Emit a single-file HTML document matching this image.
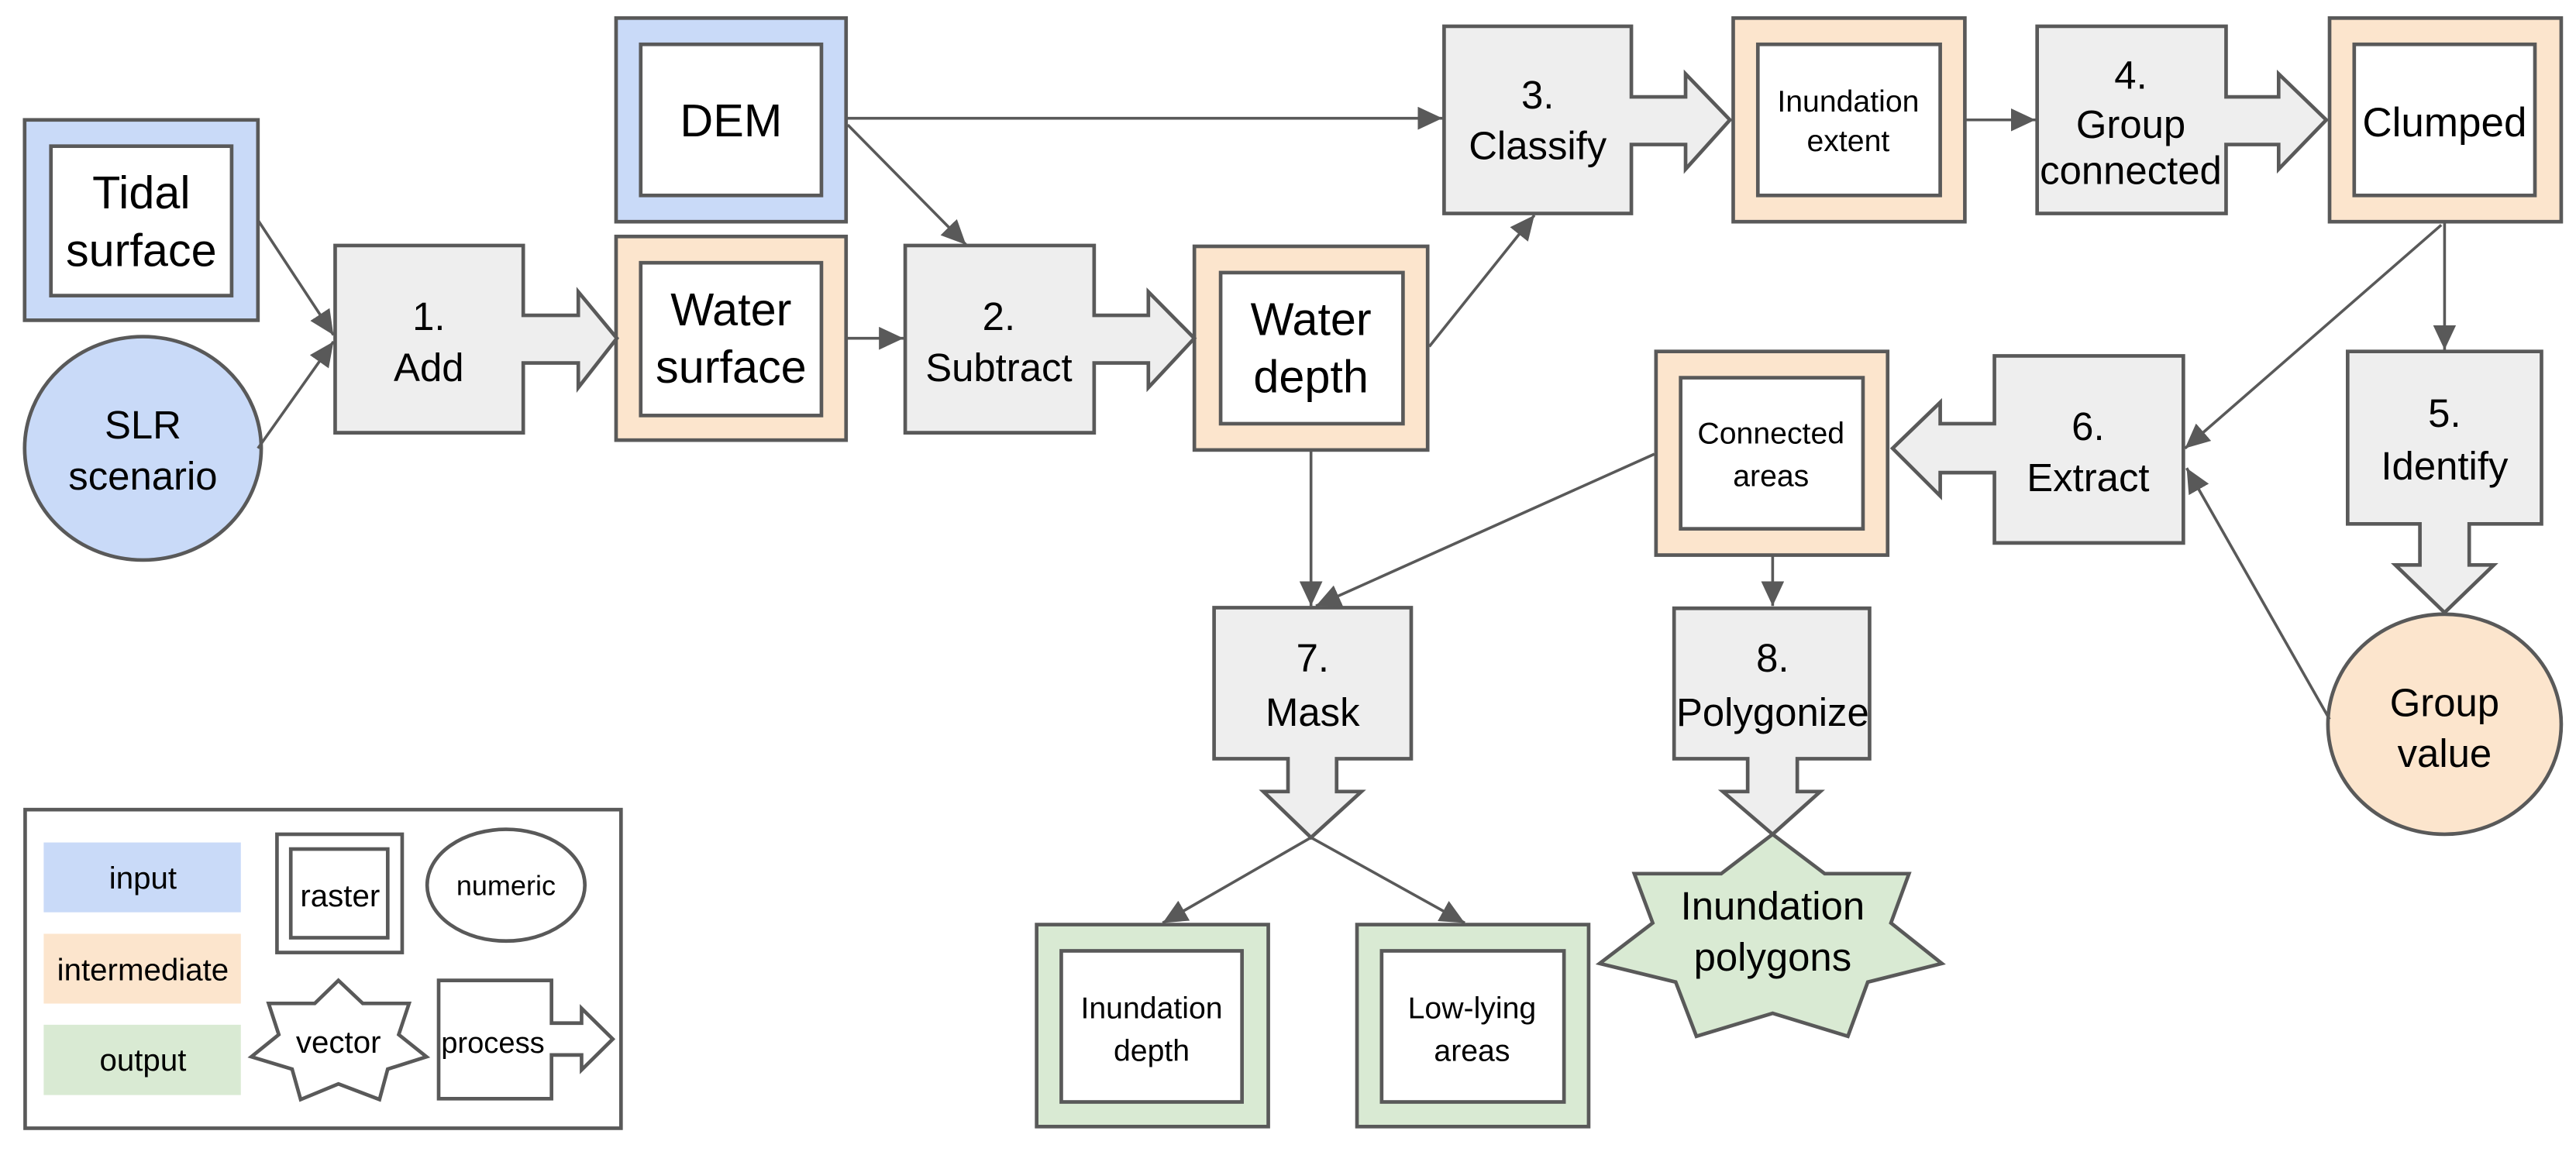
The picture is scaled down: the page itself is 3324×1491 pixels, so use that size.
<!DOCTYPE html>
<html><head><meta charset="utf-8"><style>
html,body{margin:0;padding:0;background:#fff;}
svg{display:block;}
text{font-family:"Liberation Sans",Arial,sans-serif;fill:#000;text-anchor:middle;}
</style></head><body>
<svg width="3324" height="1491" viewBox="0 0 1568 703.3" preserveAspectRatio="none" xmlns="http://www.w3.org/2000/svg">
<defs>
<marker id="ah" markerUnits="userSpaceOnUse" markerWidth="16" markerHeight="14" refX="15" refY="7" orient="auto">
<path d="M0,0 L15,7 L0,14 Z" fill="#595959"/>
</marker>
</defs>
<g stroke="#595959" stroke-width="2.2" stroke-linejoin="miter">
<rect x="15" y="73" width="142" height="122" fill="#c9daf8"/><rect x="31" y="89" width="110" height="91" fill="#fff"/>
<rect x="375" y="11" width="140" height="124" fill="#c9daf8"/><rect x="390" y="27" width="110" height="92" fill="#fff"/>
<rect x="375" y="144" width="140" height="124" fill="#fce5cd"/><rect x="390" y="160" width="110" height="93" fill="#fff"/>
<rect x="727" y="150" width="142" height="124" fill="#fce5cd"/><rect x="743" y="166" width="111" height="92" fill="#fff"/>
<rect x="1055" y="11" width="141" height="124" fill="#fce5cd"/><rect x="1070" y="27" width="111" height="92" fill="#fff"/>
<rect x="1418" y="11" width="141" height="124" fill="#fce5cd"/><rect x="1433" y="27" width="110" height="92" fill="#fff"/>
<rect x="1008" y="214" width="141" height="124" fill="#fce5cd"/><rect x="1023" y="230" width="111" height="92" fill="#fff"/>
<rect x="631" y="563" width="141" height="123" fill="#d9ead3"/><rect x="646" y="579" width="110" height="92" fill="#fff"/>
<rect x="826" y="563" width="141" height="123" fill="#d9ead3"/><rect x="841" y="579" width="111" height="92" fill="#fff"/>
<ellipse cx="87" cy="273" rx="72" ry="68" fill="#c9daf8"/>
<ellipse cx="1488" cy="441" rx="71" ry="67" fill="#fce5cd"/>
<path d="M204,149.5 H318.5 V192 H352 V177.7 L375.5,206 L352,236 V221 H318.5 V263.5 H204 Z" fill="#eeeeee"/>
<path d="M551,149.5 H666 V192 H699 V177.7 L727,206 L699,236 V221 H666 V263.5 H551 Z" fill="#eeeeee"/>
<path d="M879,16 H993 V59 H1026 V45 L1053,73 L1026,103 V88 H993 V130 H879 Z" fill="#eeeeee"/>
<path d="M1240,16 H1355 V59 H1387 V45 L1416,73 L1387,103 V88 H1355 V130 H1240 Z" fill="#eeeeee"/>
<path d="M1329,216.7 H1214 V258 H1181 V245 L1152,273 L1181,302 V287.8 H1214 V330.6 H1329 Z" fill="#eeeeee"/>
<path d="M1429,214 H1547 V319 H1503 V344 H1518 L1488,373 L1458,344 H1473 V319 H1429 Z" fill="#eeeeee"/>
<path d="M739,370 H859 V462 H813.6 V482 H828.7 L798,510 L769,482 H784 V462 H739 Z" fill="#eeeeee"/>
<path d="M1019,370.4 H1138 V462 H1094 V482 H1108 L1079,508 L1048.7,482 H1063.8 V462 H1019 Z" fill="#eeeeee"/>
<path d="M1079,508 L1110.7,532 L1162,532 L1151,562 L1182,586.7 L1136.9,598 L1124.8,631 L1079,617 L1032.6,631 L1020,598 L973.7,586.7 L1006,562 L994.8,532 L1047.7,532 Z" fill="#d9ead3"/>
<rect x="15.3" y="493" width="362.7" height="194" fill="#fff"/>
<rect x="168.6" y="508" width="76.2" height="72" fill="#fff"/><rect x="177" y="517" width="59" height="54" fill="#fff"/>
<ellipse cx="308" cy="539" rx="48" ry="34" fill="#fff"/>
<path d="M206,597 L220.8,611 L249,611 L242.7,630 L259.6,643.5 L236,651 L231,669.5 L206,660 L183,669.5 L177.8,651 L153,643.5 L169.7,630 L163.5,611 L191.6,611 Z" fill="#fff"/>
<path d="M267,597 H335.7 V623 H354 V614 L373,632.7 L354,651.5 V642.4 H335.7 V669 H267 Z" fill="#fff"/>
</g>
<g stroke="none">
<rect x="26.6" y="513" width="120" height="42.5" fill="#c9daf8"/>
<rect x="26.6" y="568.6" width="120" height="42.5" fill="#fce5cd"/>
<rect x="26.6" y="624" width="120" height="42.8" fill="#d9ead3"/>
</g>
<g stroke="#595959" stroke-width="1.7" fill="none" marker-end="url(#ah)">
<line x1="157" y1="134" x2="203" y2="204"/>
<line x1="157" y1="273" x2="203" y2="208"/>
<line x1="515" y1="206" x2="550" y2="206"/>
<line x1="516" y1="76" x2="588" y2="149"/>
<line x1="516" y1="72" x2="878" y2="72"/>
<line x1="870" y1="211" x2="934" y2="131"/>
<line x1="1196" y1="73" x2="1239" y2="73"/>
<line x1="1488" y1="135" x2="1488" y2="213"/>
<line x1="1486" y1="137" x2="1330" y2="273"/>
<line x1="1418" y1="438" x2="1331" y2="285"/>
<line x1="1079" y1="338" x2="1079" y2="369"/>
<line x1="1007" y1="276.5" x2="801" y2="369"/>
<line x1="798" y1="274" x2="798" y2="369"/>
<line x1="798" y1="510" x2="707.7" y2="562"/>
<line x1="798" y1="510" x2="891.6" y2="562"/>
</g>
<g font-size="28">
<text x="86" y="127">Tidal</text><text x="86" y="162">surface</text>
<text x="445" y="83">DEM</text>
<text x="445" y="198">Water</text><text x="445" y="233">surface</text>
<text x="798" y="204">Water</text><text x="798" y="239">depth</text>
</g>
<text x="1488" y="83" font-size="25">Clumped</text>
<g font-size="24">
<text x="87" y="267">SLR</text><text x="87" y="298">scenario</text>
<text x="261" y="201">1.</text><text x="261" y="232">Add</text>
<text x="608" y="201">2.</text><text x="608" y="232">Subtract</text>
<text x="936" y="66">3.</text><text x="936" y="97">Classify</text>
<text x="1297" y="54">4.</text><text x="1297" y="84">Group</text><text x="1297" y="112">connected</text>
<text x="1271" y="268">6.</text><text x="1271" y="299">Extract</text>
<text x="1488" y="260">5.</text><text x="1488" y="292">Identify</text>
<text x="1488" y="436">Group</text><text x="1488" y="467">value</text>
<text x="799" y="409">7.</text><text x="799" y="442">Mask</text>
<text x="1079" y="409">8.</text><text x="1079" y="442">Polygonize</text>
<text x="1079" y="560">Inundation</text><text x="1079" y="591">polygons</text>
</g>
<g font-size="18.5">
<text x="1125" y="68">Inundation</text><text x="1125" y="92">extent</text>
<text x="1078" y="270">Connected</text><text x="1078" y="296">areas</text>
<text x="701" y="620">Inundation</text><text x="701" y="646">depth</text>
<text x="896" y="620">Low-lying</text><text x="896" y="646">areas</text>
</g>
<g font-size="19">
<text x="87" y="541">input</text>
<text x="87" y="597">intermediate</text>
<text x="87" y="652">output</text>
<text x="207" y="552">raster</text>
<text x="308" y="545" font-size="17">numeric</text>
<text x="206" y="641">vector</text>
<text x="300" y="641" font-size="18">process</text>
</g>
</svg>
</body></html>
